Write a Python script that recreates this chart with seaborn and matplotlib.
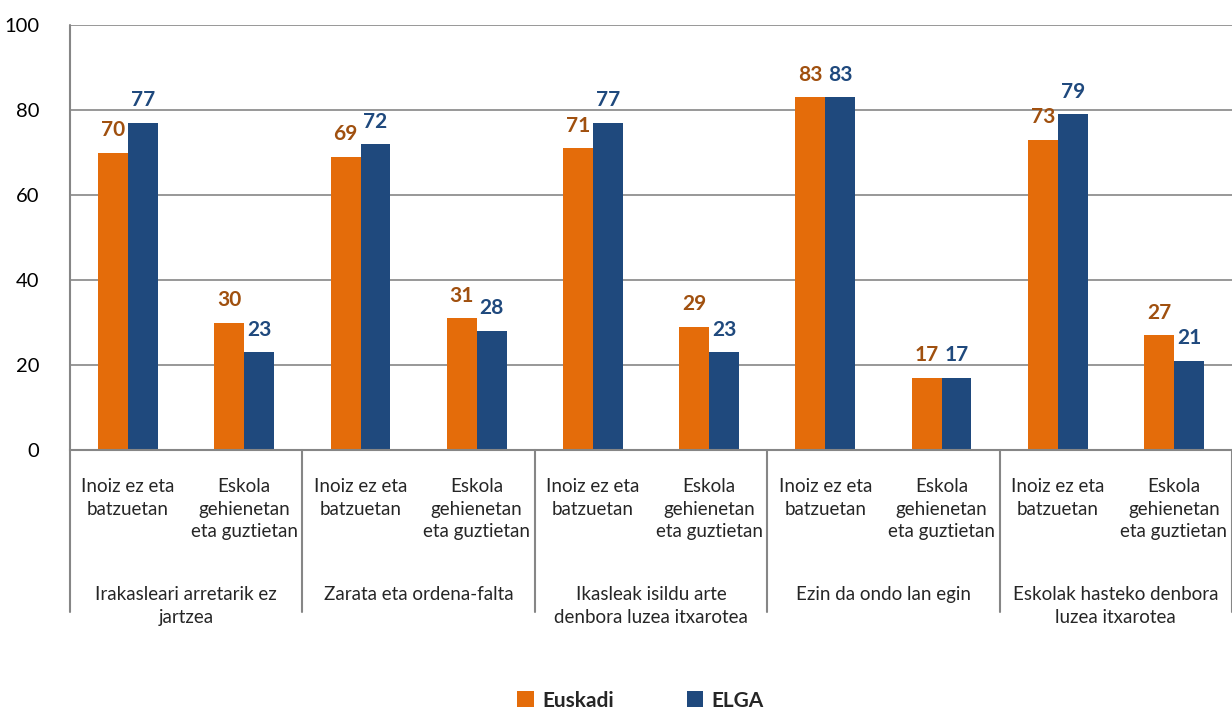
import matplotlib
matplotlib.use("Agg")
import matplotlib.pyplot as plt
import matplotlib.transforms as mtransforms
from matplotlib.patches import Patch
import seaborn as sns
import pandas as pd

groups = ["Irakasleari arretarik ez\njartzea", "Zarata eta ordena-falta",
          "Ikasleak isildu arte\ndenbora luzea itxarotea", "Ezin da ondo lan egin",
          "Eskolak hasteko denbora\nluzea itxarotea"]
subcats = ["Inoiz ez eta\nbatzuetan", "Eskola\ngehienetan\neta guztietan"]
series = ["Euskadi", "ELGA"]
euskadi = [70, 30, 69, 31, 71, 29, 83, 17, 73, 27]
elga = [77, 23, 72, 28, 77, 23, 83, 17, 79, 21]
yticks = [0, 20, 40, 60, 80, 100]

c_orange = "#E46C0A"
c_blue = "#1F497D"
c_orange_lbl = "#A0500F"
c_grid = "#868686"

sns.set_theme(style="white")
plt.rcParams["font.family"] = ["Lato", "DejaVu Sans"]

n = len(euskadi)
keys = [f"c{i}" for i in range(n)]
df = pd.DataFrame({
    "key": keys * 2,
    "value": euskadi + elga,
    "series": [series[0]] * n + [series[1]] * n,
})

fig = plt.figure(figsize=(12.32, 7.15), dpi=100)
ax = fig.add_axes([70 / 1232, 1 - 450 / 715, 1 - 70 / 1232, (450 - 25) / 715])

sns.barplot(data=df, x="key", y="value", hue="series", order=keys,
            hue_order=series, palette=[c_orange, c_blue], width=0.516,
            saturation=1, ax=ax, legend=False, linewidth=0)

ax.set_xlim(-0.5, n - 0.5)
ax.set_ylim(0, 100)
ax.set_yticks(yticks)
ax.set_yticklabels([str(t) for t in yticks], fontsize=14.5, color="#000000")
ax.tick_params(axis="y", length=0, pad=22)
ax.set_xticks([])
ax.set_xlabel("")
ax.set_ylabel("")
ax.grid(False)
for t in yticks[1:]:
    ax.axhline(t, color=c_grid, lw=1.2, zorder=0)

for s in ["top", "right"]:
    ax.spines[s].set_visible(False)
ax.spines["bottom"].set_color(c_grid)
ax.spines["bottom"].set_linewidth(1.5)
ax.spines["left"].set_visible(False)

# value labels
for ci, cont in enumerate(ax.containers):
    col = c_orange_lbl if ci == 0 else c_blue
    ax.bar_label(cont, labels=[f"{v:.0f}" for v in cont.datavalues], padding=9,
                 fontsize=15, fontweight="bold", color=col)

trans = mtransforms.blended_transform_factory(ax.transData, ax.transAxes)
px = (450 - 25)
def ay(ypix):
    return (450 - ypix) / px

for g in range(len(groups) + 1):
    xg = g * 2 - 0.5
    ax.plot([xg, xg], [1 if g == 0 else 0, ay(612)], transform=trans,
            color=c_grid, lw=1.5, clip_on=False)

for i in range(n):
    ax.text(i, ay(478), subcats[i % 2], transform=trans, ha="center", va="top",
            fontsize=13.5, linespacing=1.4)
for g, gl in enumerate(groups):
    ax.text(g * 2 + 0.5, ay(586), gl, transform=trans, ha="center", va="top",
            fontsize=13.5, linespacing=1.4)

handles = [Patch(facecolor=c_orange, edgecolor="none"),
           Patch(facecolor=c_blue, edgecolor="none")]
fig.legend(handles, series, loc="center", bbox_to_anchor=(0.52, 0.02), ncol=2,
           frameon=False, prop={"weight": "bold", "size": 15},
           handlelength=0.8, handleheight=0.8, handletextpad=0.4, columnspacing=3.5)

fig.savefig("out.png", dpi=100)
